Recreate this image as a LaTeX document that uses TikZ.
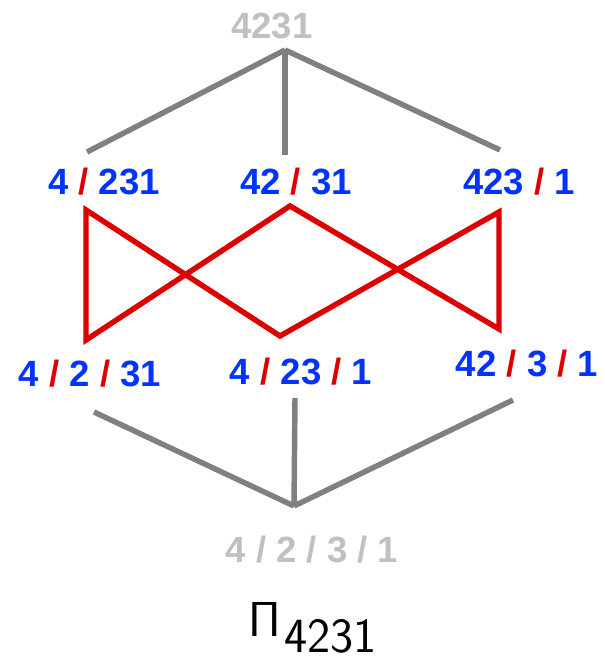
\RequirePackage{fix-cm}
\documentclass[tikz,border=0pt]{standalone}
\usepackage[no-math]{fontspec}
\newfontfamily\blockfont{Liberation Sans}
\definecolor{blockblue}{RGB}{0,51,255}
\definecolor{cutred}{RGB}{221,0,0}
\definecolor{edgegray}{RGB}{128,128,128}
\definecolor{faintgray}{RGB}{192,192,192}
\newcommand{\cut}{\textcolor{cutred}{/}}

\begin{document}
\begin{tikzpicture}[
  font=\blockfont\bfseries\fontsize{20.8}{24}\selectfont,
  part/.style={anchor=base,inner sep=0pt,text=blockblue},
  extreme/.style={anchor=base,inner sep=0pt,text=faintgray},
  cover/.style={draw=edgegray,line width=3.1pt},
  flip/.style={draw=cutred,line width=3.1pt,line join=miter}
]
\useasboundingbox (0,0) rectangle (12.08,13.2);

% blocks of the set partitions
\node[extreme] (whole) at (5.44,12.42) {4231};
\node[part] (s4) at (2.08,9.30) {4 \cut{} 231};
\node[part] (s42) at (5.92,9.30) {42 \cut{} 31};
\node[part] (s423) at (10.38,9.30) {423 \cut{} 1};
\node[part] (s4-2) at (1.80,5.46) {4 \cut{} 2 \cut{} 31};
\node[part] (s4-23) at (6.02,5.50) {4 \cut{} 23 \cut{} 1};
\node[part] (s42-3) at (10.54,5.66) {42 \cut{} 3 \cut{} 1};
\node[extreme] (finest) at (6.24,1.94) {4 / 2 / 3 / 1};
\node[anchor=base,inner sep=0pt,font=\fontsize{28}{32}\selectfont\sffamily] (name) at (6.25,0.47)
  {$\mathsf{\Pi}$\hspace{2pt}\raisebox{-0.33cm}{4231}};

% ends of the cover lines
\coordinate (whole-s) at (5.70,12.20);
\coordinate (s4-n) at (1.74,10.16);
\coordinate (s42-n) at (5.70,10.10);
\coordinate (s423-n) at (10.00,10.20);
\coordinate (s4-s) at (1.72,9.00);
\coordinate (s42-s) at (5.80,9.08);
\coordinate (s423-s) at (9.98,8.96);
\coordinate (s4-2-n) at (1.72,6.40);
\coordinate (s4-23-n) at (5.60,6.48);
\coordinate (s42-3-n) at (9.98,6.62);
\coordinate (s4-2-s) at (1.88,4.96);
\coordinate (s4-23-s) at (5.90,5.24);
\coordinate (s42-3-s) at (10.26,5.20);
\coordinate (finest-n) at (5.88,3.08);

\draw[cover] (whole-s) -- (s4-n);
\draw[cover] (whole-s) -- (s42-n);
\draw[cover] (whole-s) -- (s423-n);
\draw[flip] (s4-2-n) -- (s4-s) -- (s4-23-n) -- (s423-s) -- (s42-3-n) -- (s42-s) -- cycle;
\draw[cover] (s4-2-s) -- (finest-n);
\draw[cover] (s4-23-s) -- (finest-n);
\draw[cover] (s42-3-s) -- (finest-n);
\end{tikzpicture}
\end{document}
